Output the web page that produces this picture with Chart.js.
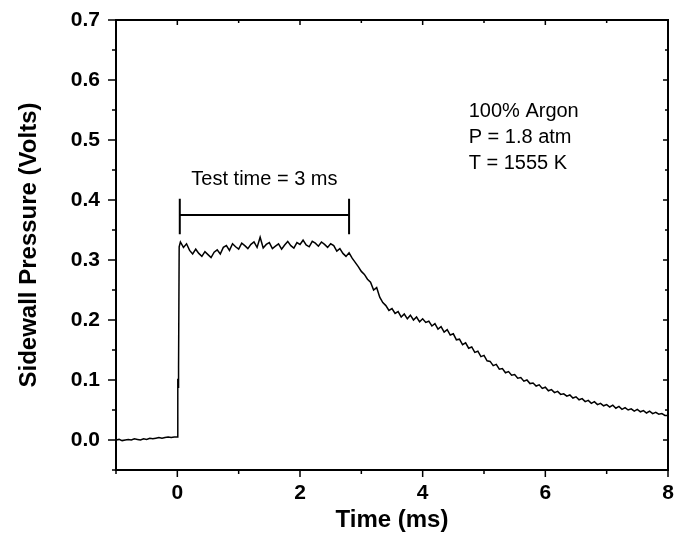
<!DOCTYPE html>
<html>
<head>
<meta charset="utf-8">
<script src="https://cdn.jsdelivr.net/npm/chart.js@4.4.1/dist/chart.umd.min.js"></script>
<style>
  html, body { margin: 0; padding: 0; background: #fff; }
  #wrap { width: 674px; height: 550px; }
</style>
</head>
<body>
<div id="wrap"><canvas id="chart"></canvas></div>
<script>
// sampled trace, one value every 0.05 ms from -1 ms to 8 ms
const traceStart = -1;
const traceStep = 0.05;
const traceVolts = [
  0.000, 0.001, -0.001, 0.000, 0.001, 0.000, 0.002, 0.001, 0.000, 0.002,
  0.001, 0.003, 0.002, 0.003, 0.004, 0.003, 0.004, 0.005, 0.004, 0.005,
  0.005,
  // 0.05 .. 1.00
  0.330, 0.321, 0.327, 0.316, 0.310, 0.318, 0.311, 0.306, 0.314, 0.309,
  0.304, 0.313, 0.317, 0.310, 0.321, 0.324, 0.316, 0.327, 0.322, 0.318,
  // 1.05 .. 2.00
  0.328, 0.324, 0.319, 0.326, 0.330, 0.321, 0.338, 0.320, 0.326, 0.329,
  0.319, 0.323, 0.327, 0.318, 0.325, 0.331, 0.324, 0.320, 0.329, 0.326,
  // 2.05 .. 3.00
  0.333, 0.325, 0.322, 0.331, 0.328, 0.323, 0.330, 0.326, 0.321, 0.327,
  0.324, 0.315, 0.319, 0.311, 0.306, 0.312, 0.303, 0.296, 0.289, 0.281,
  // 3.05 .. 4.00
  0.276, 0.268, 0.263, 0.250, 0.254, 0.238, 0.229, 0.224, 0.216, 0.219,
  0.211, 0.214, 0.205, 0.210, 0.202, 0.208, 0.200, 0.205, 0.197, 0.202,
  // 4.05 .. 5.00
  0.196, 0.198, 0.190, 0.194, 0.185, 0.189, 0.180, 0.184, 0.175, 0.177,
  0.167, 0.168, 0.159, 0.162, 0.153, 0.155, 0.146, 0.148, 0.139, 0.141,
  // 5.05 .. 6.00
  0.132, 0.131, 0.124, 0.126, 0.118, 0.119, 0.112, 0.114, 0.108, 0.109,
  0.103, 0.104, 0.098, 0.100, 0.094, 0.095, 0.090, 0.092, 0.086, 0.088,
  // 6.05 .. 7.00
  0.082, 0.084, 0.079, 0.081, 0.076, 0.077, 0.073, 0.075, 0.070, 0.072,
  0.067, 0.069, 0.064, 0.066, 0.061, 0.064, 0.059, 0.061, 0.057, 0.059,
  // 7.05 .. 8.00
  0.055, 0.058, 0.053, 0.056, 0.051, 0.054, 0.050, 0.052, 0.048, 0.051,
  0.047, 0.049, 0.045, 0.048, 0.044, 0.046, 0.043, 0.044, 0.041, 0.041
];
// the fast rise just after the diaphragm burst
const riseTimes = [0.005, 0.010, 0.015, 0.020, 0.030];
const riseVolts = [0.090, 0.102, 0.088, 0.120, 0.322];

const xTicks = [0, 2, 4, 6, 8];
const yTicks = [0, 0.1, 0.2, 0.3, 0.4, 0.5, 0.6, 0.7];
const xMinor = [-1, 1, 3, 5, 7];
const yMinor = [-0.05, 0.05, 0.15, 0.25, 0.35, 0.45, 0.55, 0.65];

const testTime = { from: 0.04, to: 2.8, level: 0.375, label: 'Test time = 3 ms' };
const conditions = ['100% Argon', 'P = 1.8 atm', 'T = 1555 K'];

const points = traceVolts.map((v, i) => ({ x: +(traceStart + i * traceStep).toFixed(3), y: v }));
riseTimes.forEach((t, i) => points.push({ x: t, y: riseVolts[i] }));
points.sort((a, b) => a.x - b.x);

const FONT = "'Liberation Sans', Arial, sans-serif";

const framePlugin = {
  id: 'frame',
  afterDraw(chart) {
    const { ctx, chartArea: a, scales: { x, y } } = chart;
    ctx.save();
    ctx.strokeStyle = '#000';
    ctx.lineWidth = 2;
    ctx.strokeRect(a.left, a.top, a.right - a.left, a.bottom - a.top);

    ctx.lineWidth = 1.5;
    ctx.beginPath();
    const tick = (x1, y1, x2, y2) => { ctx.moveTo(x1, y1); ctx.lineTo(x2, y2); };
    xTicks.forEach(v => {
      const px = x.getPixelForValue(v);
      tick(px, a.bottom, px, a.bottom + 7);
      tick(px, a.top, px, a.top + 5);
    });
    xMinor.forEach(v => {
      const px = x.getPixelForValue(v);
      tick(px, a.bottom, px, a.bottom + 4);
      tick(px, a.top, px, a.top + 3);
    });
    yTicks.forEach(v => {
      const py = y.getPixelForValue(v);
      tick(a.left - 8, py, a.left, py);
      tick(a.right - 5, py, a.right, py);
    });
    yMinor.forEach(v => {
      const py = y.getPixelForValue(v);
      tick(a.left - 4, py, a.left, py);
      tick(a.right - 3, py, a.right, py);
    });
    ctx.stroke();

    // test time bracket
    const x1 = x.getPixelForValue(testTime.from);
    const x2 = x.getPixelForValue(testTime.to);
    const yl = y.getPixelForValue(testTime.level);
    const yt = y.getPixelForValue(0.402);
    const yb = y.getPixelForValue(0.343);
    ctx.lineWidth = 2;
    ctx.beginPath();
    tick(x1, yl, x2, yl);
    tick(x1, yt, x1, yb);
    tick(x2, yt, x2, yb);
    ctx.stroke();

    ctx.fillStyle = '#000';
    ctx.font = '20px ' + FONT;
    ctx.textAlign = 'center';
    ctx.textBaseline = 'alphabetic';
    ctx.fillText(testTime.label, (x1 + x2) / 2, y.getPixelForValue(0.425));

    ctx.textAlign = 'left';
    const tx = x.getPixelForValue(4.75);
    conditions.forEach((s, i) => {
      ctx.fillText(s, tx, y.getPixelForValue(0.538) + i * 26);
    });
    ctx.restore();
  }
};

new Chart(document.getElementById('chart'), {
  type: 'line',
  data: {
    datasets: [{
      data: points,
      borderColor: '#000',
      borderWidth: 1.5,
      pointRadius: 0,
      tension: 0,
      fill: false
    }]
  },
  options: {
    responsive: true,
    maintainAspectRatio: false,
    animation: false,
    events: [],
    layout: { padding: { left: 0, right: 6, top: 20, bottom: 0 } },
    plugins: { legend: { display: false }, tooltip: { enabled: false } },
    scales: {
      x: {
        type: 'linear',
        min: -1,
        max: 8,
        afterBuildTicks: s => { s.ticks = xTicks.map(v => ({ value: v })); },
        afterFit: s => { s.height = 80; s.paddingLeft = 0; s.paddingRight = 0; },
        grid: { display: false, drawTicks: false },
        border: { display: false },
        ticks: {
          color: '#000',
          padding: 11,
          maxRotation: 0,
          font: { family: FONT, size: 21, weight: 'bold' },
          callback: v => String(v)
        },
        title: {
          display: true,
          text: 'Time (ms)',
          color: '#000',
          padding: { top: 0, bottom: 15 },
          font: { family: FONT, size: 24, weight: 'bold' }
        }
      },
      y: {
        min: -0.05,
        max: 0.7,
        afterBuildTicks: s => { s.ticks = yTicks.map(v => ({ value: v })); },
        afterFit: s => { s.width = 116; s.paddingTop = 0; s.paddingBottom = 0; },
        grid: { display: false, drawTicks: false },
        border: { display: false },
        ticks: {
          color: '#000',
          padding: 16,
          font: { family: FONT, size: 21, weight: 'bold' },
          callback: v => v.toFixed(1)
        },
        title: {
          display: true,
          text: 'Sidewall Pressure (Volts)',
          color: '#000',
          padding: { top: 15, bottom: 0 },
          font: { family: FONT, size: 24, weight: 'bold' }
        }
      }
    }
  },
  plugins: [framePlugin]
});
</script>
</body>
</html>
